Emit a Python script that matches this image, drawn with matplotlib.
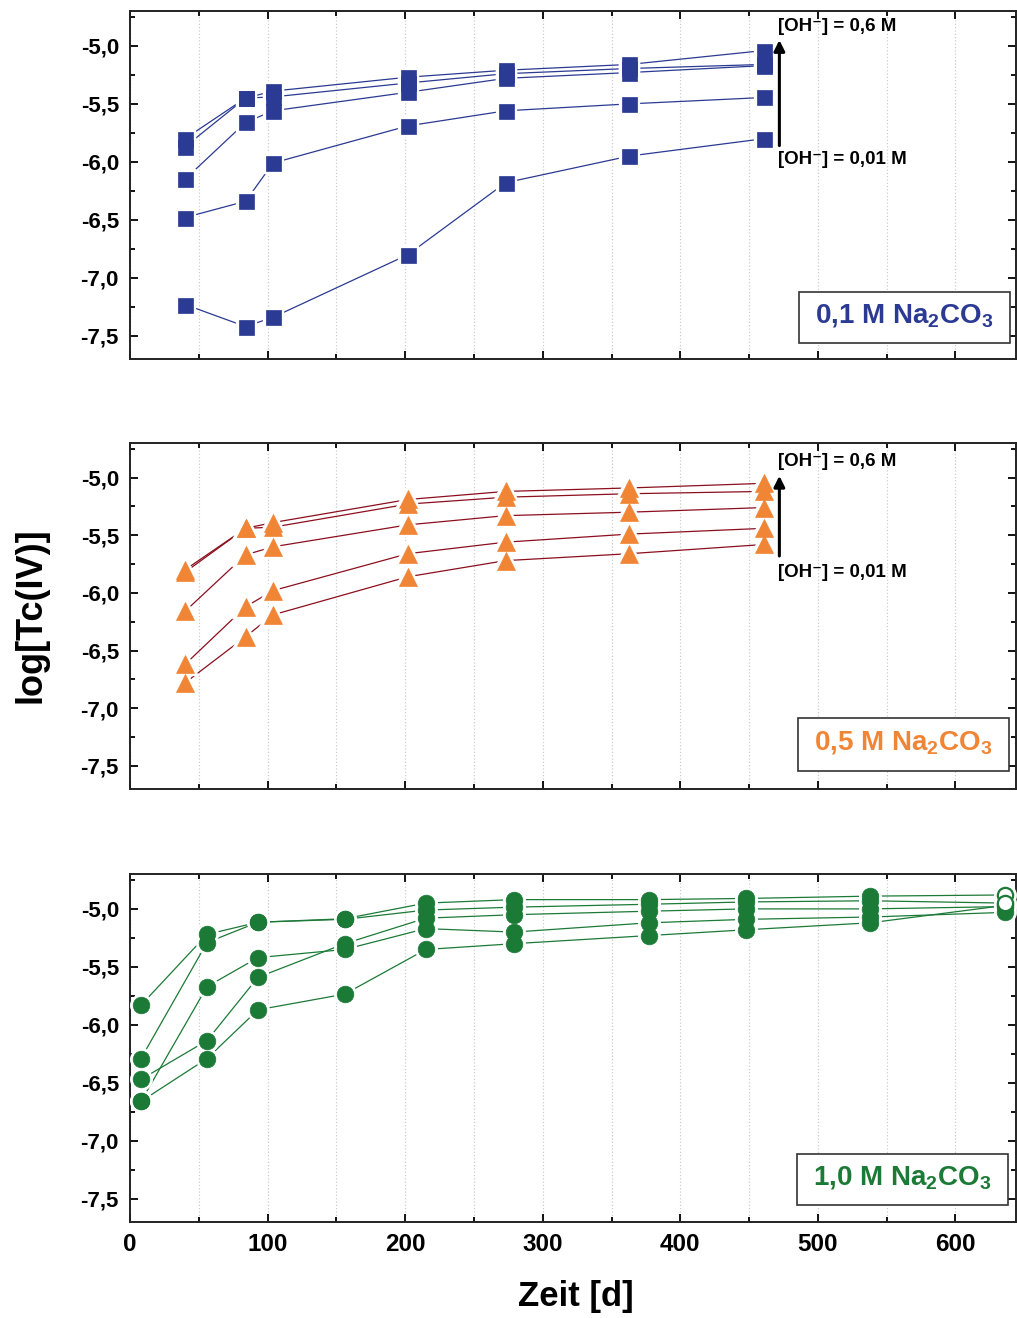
import matplotlib
matplotlib.use('Agg')
import matplotlib.pyplot as plt
from matplotlib.patches import Rectangle
from matplotlib.ticker import MultipleLocator, FuncFormatter

plt.rcParams['font.family'] = ['Liberation Sans', 'DejaVu Sans']
plt.rcParams['font.weight'] = 'bold'
plt.rcParams['mathtext.fontset'] = 'custom'
plt.rcParams['mathtext.rm'] = 'Liberation Sans:bold'
plt.rcParams['mathtext.bf'] = 'Liberation Sans:bold'
plt.rcParams['mathtext.default'] = 'bf'

# ── data ─────────────────────────────────────────────────────────────────────
days_01 = [40, 84, 104, 202, 273, 363, 461]
na01_a = [-7.23, -7.42, -7.34, -6.80, -6.18, -5.95, -5.80]
na01_b = [-6.48, -6.34, -6.01, -5.69, -5.56, -5.50, -5.445]
na01_c = [-6.15, -5.66, -5.56, -5.40, -5.28, -5.23, -5.17]
na01_d = [-5.87, -5.45, -5.44, -5.32, -5.24, -5.195, -5.16]
na01_e = [-5.80, -5.45, -5.39, -5.27, -5.21, -5.16, -5.04]

days_05 = [40, 84, 104, 202, 273, 363, 461]
na05_a = [-6.78, -6.38, -6.19, -5.86, -5.72, -5.66, -5.58]
na05_b = [-6.62, -6.12, -5.98, -5.66, -5.56, -5.49, -5.44]
na05_c = [-6.16, -5.67, -5.60, -5.41, -5.33, -5.30, -5.26]
na05_d = [-5.82, -5.44, -5.43, -5.23, -5.17, -5.14, -5.12]
na05_e = [-5.80, -5.44, -5.39, -5.19, -5.12, -5.09, -5.05]

days_10 = [8, 56, 93, 156, 215, 279, 377, 448, 538, 636]
na10_a = [-5.83, -5.22, -5.115, -5.085, -4.95, -4.92, -4.92, -4.91, -4.89, -4.88]
na10_b = [-6.29, -5.29, -5.115, -5.09, -5.01, -4.985, -4.96, -4.94, -4.93, -4.95]
na10_c = [-6.47, -6.135, -5.59, -5.30, -5.08, -5.05, -5.02, -5.00, -5.00, -4.98]
na10_d = [-6.66, -5.67, -5.42, -5.35, -5.17, -5.20, -5.12, -5.09, -5.07, -5.03]
na10_e = [-6.66, -6.29, -5.87, -5.735, -5.35, -5.30, -5.23, -5.18, -5.12, -4.97]
open_last_10 = [True, True, False, False, False]

BLUE = '#2B3A92'
ORANGE = '#F08536'
DARKRED = '#8C0F1E'
GREEN = '#1C7A37'

panels = [
    dict(days=days_01, series=[na01_a, na01_b, na01_c, na01_d, na01_e], marker='s', ms=10.8,
         color=BLUE, line=BLUE, label='0,1 M Na$_2$CO$_3$', arrow=True,
         bottom=0.7276, height=0.264, arrow_y=(-5.86, -4.95), txt_y=(-4.83, -5.98),
         box=(0.755, 0.045, 0.238, 0.148)),
    dict(days=days_05, series=[na05_a, na05_b, na05_c, na05_d, na05_e], marker='^', ms=13.5,
         color=ORANGE, line=DARKRED, label='0,5 M Na$_2$CO$_3$', arrow=True,
         bottom=0.4014, height=0.2625, arrow_y=(-5.68, -4.985), txt_y=(-4.86, -5.82),
         box=(0.754, 0.053, 0.238, 0.151)),
    dict(days=days_10, series=[na10_a, na10_b, na10_c, na10_d, na10_e], marker='o', ms=12,
         color=GREEN, line=GREEN, label='1,0 M Na$_2$CO$_3$', arrow=False,
         bottom=0.0728, height=0.264, box=(0.753, 0.049, 0.238, 0.148)),
]

fig = plt.figure(figsize=(10.17, 13.18), dpi=100)
comma = FuncFormatter(lambda v, p: f'{v:.1f}'.replace('.', ','))

for i, p in enumerate(panels):
    ax = fig.add_axes([130 / 1017, p['bottom'], (1016 - 130) / 1017, p['height']])
    ax.set_xlim(0, 644)
    ax.set_ylim(-7.7, -4.7)

    for s in p['series']:
        ax.plot(p['days'], s, '-', color=p['line'], lw=0.9, zorder=2)
    # white halo -> small gap between the markers and the lines
    for s in p['series']:
        ax.plot(p['days'], s, ls='none', marker=p['marker'], ms=p['ms'],
                mfc='white', mec='white', mew=4.5, zorder=3)
    for j, s in enumerate(p['series']):
        n = len(s) - 1 if (i == 2 and open_last_10[j]) else len(s)
        ax.plot(p['days'][:n], s[:n], ls='none', marker=p['marker'], ms=p['ms'],
                mfc=p['color'], mec=p['color'], mew=0.5, zorder=4)
    if i == 2:
        for j, s in enumerate(p['series']):
            if open_last_10[j]:
                ax.plot(p['days'][-1:], s[-1:], ls='none', marker='o', ms=p['ms'] - 1,
                        mfc='white', mec=p['color'], mew=1.6, zorder=5)

    ax.xaxis.set_major_locator(MultipleLocator(100))
    ax.xaxis.set_minor_locator(MultipleLocator(50))
    ax.yaxis.set_major_locator(MultipleLocator(0.5))
    ax.yaxis.set_minor_locator(MultipleLocator(0.25))
    ax.yaxis.set_major_formatter(comma)
    ax.tick_params(which='both', direction='in', top=True, right=True, width=1.3)
    ax.tick_params(which='major', length=6)
    ax.tick_params(which='minor', length=3.5)
    ax.tick_params(axis='y', labelsize=16, pad=8)
    ax.tick_params(axis='x', labelsize=17.5, pad=8)
    ax.tick_params(axis='y', which='both', right=True, labelright=False)
    if i < 2:
        ax.tick_params(axis='x', labelbottom=False)
    for sp in ax.spines.values():
        sp.set_linewidth(1.4)
        sp.set_color('#222222')
    ax.grid(axis='x', which='both', ls=':', color='#cccccc', lw=0.9, zorder=0)
    ax.set_axisbelow(True)

    bx, by, bw, bh = p['box']
    ax.add_patch(Rectangle((bx, by), bw, bh, transform=ax.transAxes, fc='white',
                           ec='#333333', lw=1.2, zorder=6))
    ax.text(bx + bw / 2, by + bh / 2 + 0.005, p['label'], transform=ax.transAxes,
            ha='center', va='center', fontsize=20, fontweight='bold', color=p['color'], zorder=7)

    if p['arrow']:
        y0, y1 = p['arrow_y']
        ax.annotate('', xy=(472, y1), xytext=(472, y0),
                    arrowprops=dict(arrowstyle='-|>', color='black', lw=2.2,
                                    mutation_scale=16, shrinkA=0, shrinkB=0), zorder=6)
        t0, t1 = p['txt_y']
        ax.text(471, t0, '[OH⁻] = 0,6 M', ha='left', va='center', fontsize=13.5,
                fontweight='bold', zorder=7)
        ax.text(471, t1, '[OH⁻] = 0,01 M', ha='left', va='center', fontsize=13.5,
                fontweight='bold', zorder=7)

fig.text(0.030, 0.533, 'log[Tc(IV)]', rotation=90, ha='center', va='center',
         fontsize=26, fontweight='bold')
fig.text(0.566, 0.016, 'Zeit [d]', ha='center', va='center', fontsize=25, fontweight='bold')

fig.savefig('out.png', dpi=100)
